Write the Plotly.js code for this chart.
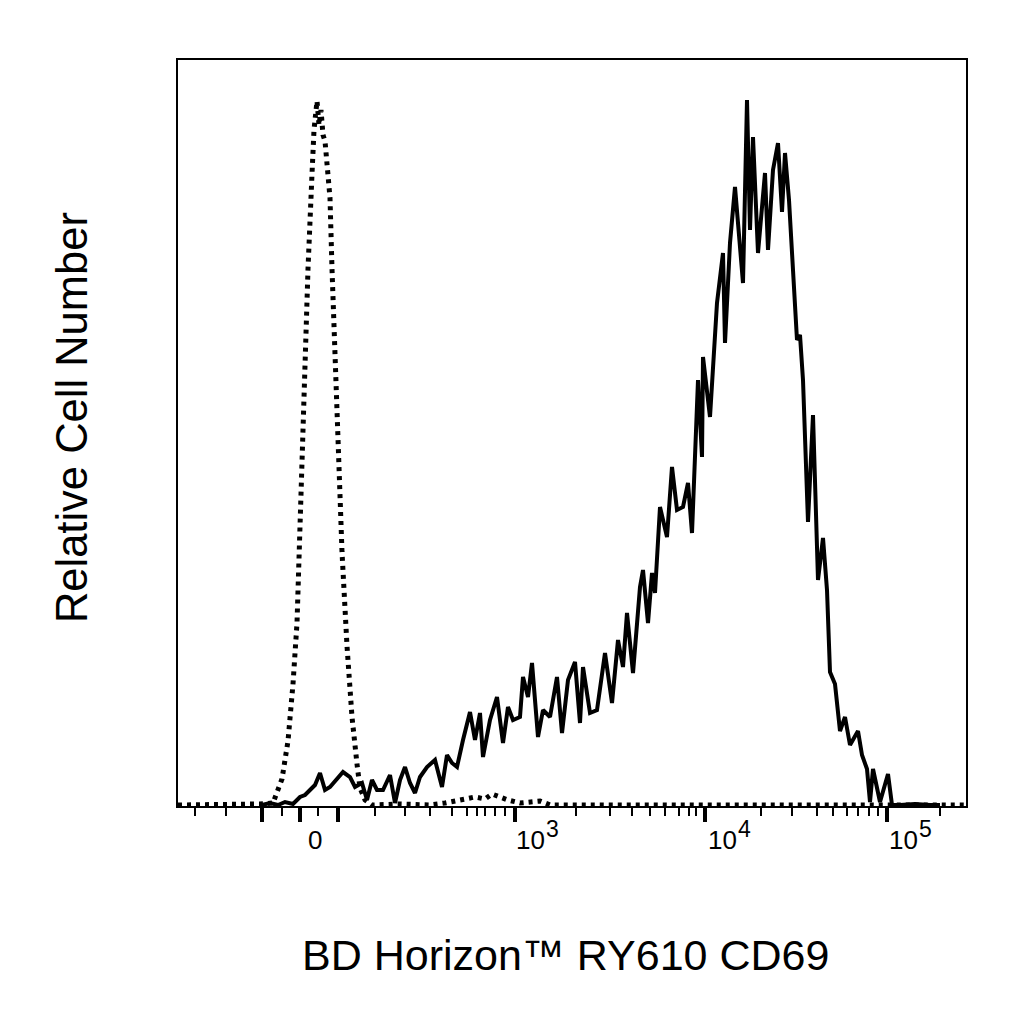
<!DOCTYPE html>
<html>
<head>
<meta charset="utf-8">
<script src="https://cdn.plot.ly/plotly-3.0.1.min.js"></script>
<style>
  html, body { margin: 0; padding: 0; background: #fff; }
  #chart { width: 1024px; height: 1024px; }
</style>
</head>
<body>
<div id="chart"></div>
<script>
// display channel (biexponential scale) vs relative cell number

// stained sample (solid line)
const stainedChannel = [84, 92, 100, 107, 115, 122, 127, 132, 137, 142, 147, 152, 160, 165, 172, 177, 184, 189, 194, 199,
  205, 212, 217, 222, 227, 232, 237, 242, 249, 257, 264, 269, 274, 279, 285, 292, 297, 302, 305, 309,
  312, 319, 325, 330, 335, 342, 345, 350, 354, 360, 365, 372, 379, 384, 390, 397, 402, 405, 412, 419,
  427, 434, 440, 445, 449, 455, 462, 465, 470, 474, 477, 482, 489, 494, 499, 505, 510, 514, 520, 524,
  525, 532, 539, 545, 547, 552, 557, 560, 565, 569, 572, 575, 580, 587, 590, 595, 600, 604, 607, 611,
  615, 619, 622, 625, 630, 635, 640, 645, 649, 652, 657, 662, 667, 672, 680, 684, 689, 692, 695, 702,
  710, 714, 722, 737, 752, 762];
const stainedCount = [1, 3, 1, 4, 2, 9, 11, 16, 21, 33, 16, 19, 29, 34, 29, 19, 23, 6, 26, 16,
  16, 31, 3, 26, 39, 23, 13, 29, 39, 46, 19, 51, 43, 39, 66, 94, 66, 93, 49, 69,
  86, 109, 63, 99, 86, 89, 129, 109, 143, 69, 96, 89, 129, 73, 126, 144, 83, 139, 93, 96,
  153, 103, 166, 139, 193, 133, 219, 236, 183, 233, 213, 299, 269, 339, 296, 299, 323, 273, 426, 349,
  449, 389, 503, 553, 463, 563, 619, 583, 523, 706, 576, 669, 553, 633, 556, 636, 663, 594, 653, 606,
  526, 466, 471, 426, 284, 391, 226, 268, 216, 134, 122, 75, 89, 61, 75, 51, 37, 4, 37, 4,
  32, 1, 1, 2, 1, 1];

// isotype / unstained control (dotted line)
const controlChannel = [0, 22, 42, 62, 82, 95, 104, 110, 115, 119, 121, 124, 127, 130, 134, 136, 139, 141, 143, 145,
  147, 152, 154, 157, 160, 164, 169, 174, 179, 182, 187, 194, 222, 252, 267, 277, 287, 297, 307, 314,
  322, 330, 342, 362, 372, 422, 500, 600, 700, 788];
const controlCount = [1, 1, 2, 1, 2, 3, 27, 65, 122, 183, 254, 348, 443, 537, 632, 676, 705, 681, 696, 671,
  665, 608, 537, 443, 348, 254, 160, 89, 42, 18, 6, 1, 2, 1, 3, 5, 7, 9, 7, 12,
  9, 6, 3, 5, 1, 1, 1, 1, 1, 1];

// axis ticks (channel positions)
const majorTicks = [84, 122, 160, 337, 527, 709];
const minorTicks = [17, 48, 104, 140, 197, 227, 252, 274, 289, 299, 307, 317, 327,
  398, 432, 454, 472, 487, 501, 511, 518, 583, 614, 639, 655, 669, 680, 691, 700, 762];
// tick labels: base and exponent, e.g. 10 and 3 -> 10^3
const labelPos = [137, 352, 544, 725];
const labelBase = ['0', '10', '10', '10'];
const labelExp = ['', '3', '4', '5'];

const data = [
    {
        x: controlChannel,
        y: controlCount,
        type: 'scatter',
        mode: 'lines',
        line: {color: '#000', width: 5, dash: '4px,5px'},
        hoverinfo: 'skip'
    },
    {
        x: stainedChannel,
        y: stainedCount,
        type: 'scatter',
        mode: 'lines',
        line: {color: '#000', width: 4},
        hoverinfo: 'skip'
    }
];

// tick labels as annotations under the axis
const tickLabels = [];
labelPos.forEach((p, i) => {
    tickLabels.push({
        text: labelBase[i],
        xref: 'x', yref: 'paper',
        x: p, y: -0.0456,
        xanchor: 'center', yanchor: 'middle',
        showarrow: false,
        font: {size: 26, color: '#000'}
    });
    if (labelExp[i]) {
        tickLabels.push({
            text: labelExp[i],
            xref: 'x', yref: 'paper',
            x: p, y: -0.0456,
            xshift: 22, yshift: 11,
            xanchor: 'center', yanchor: 'middle',
            showarrow: false,
            font: {size: 23, color: '#000'}
        });
    }
});

const layout = {
    width: 1024,
    height: 1024,
    showlegend: false,
    paper_bgcolor: '#fff',
    plot_bgcolor: '#fff',
    margin: {l: 178, r: 58, t: 60, b: 218, pad: 0},
    font: {family: 'Liberation Sans, Arial, sans-serif', color: '#000'},
    xaxis: {
        range: [0, 788],
        showline: true,
        mirror: true,
        linecolor: '#000',
        linewidth: 2,
        showgrid: false,
        zeroline: false,
        ticks: 'outside',
        tickmode: 'array',
        tickvals: majorTicks,
        ticklen: 14,
        tickwidth: 4,
        tickcolor: '#000',
        showticklabels: false,
        minor: {
            tickmode: 'array',
            tickvals: minorTicks,
            ticks: 'outside',
            ticklen: 8,
            tickwidth: 2,
            tickcolor: '#000',
            showgrid: false
        }
    },
    yaxis: {
        range: [0, 746],
        showline: true,
        mirror: true,
        linecolor: '#000',
        linewidth: 2,
        showgrid: false,
        zeroline: false,
        ticks: '',
        showticklabels: false
    },
    annotations: tickLabels.concat([
        {
            text: 'BD Horizon™ RY610 CD69',
            xref: 'paper', yref: 'paper',
            x: 0.492, y: -0.2,
            xanchor: 'center', yanchor: 'middle',
            showarrow: false,
            font: {size: 43, color: '#000'}
        },
        {
            text: 'Relative Cell Number',
            xref: 'paper', yref: 'paper',
            x: -0.1345, y: 0.52,
            xanchor: 'center', yanchor: 'middle',
            textangle: -90,
            showarrow: false,
            font: {size: 43.5, color: '#000'}
        }
    ])
};

Plotly.newPlot('chart', data, layout, {staticPlot: true});
</script>
</body>
</html>
